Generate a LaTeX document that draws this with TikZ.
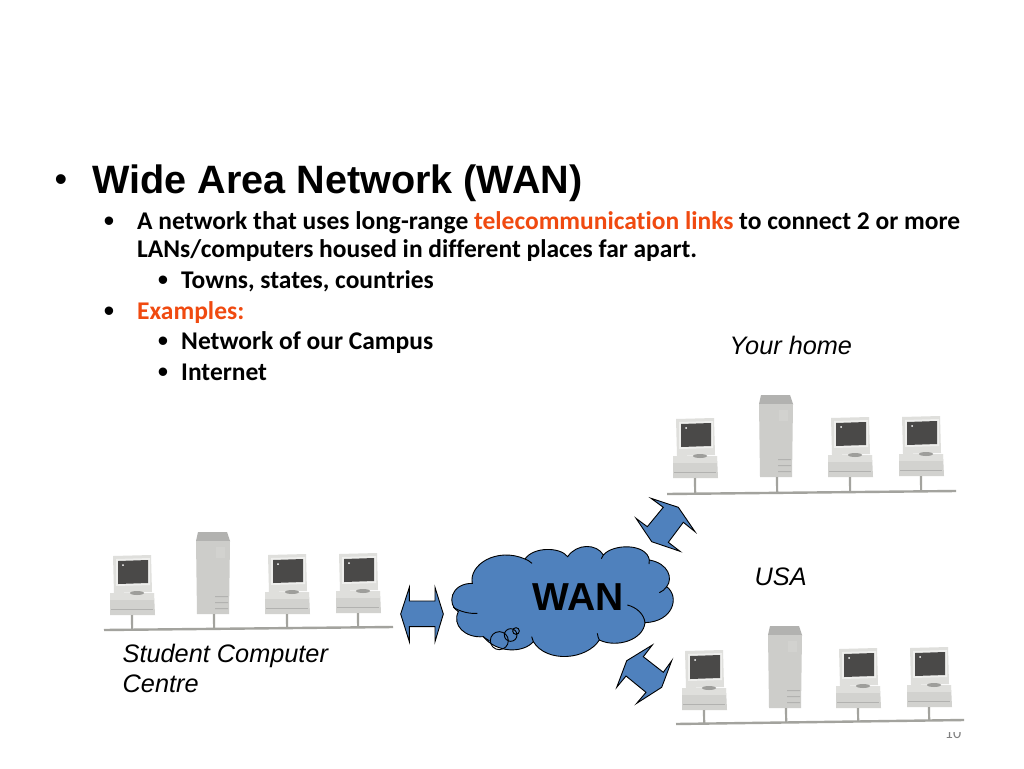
\documentclass[tikz,border=0pt]{standalone}
\usepackage{fontspec}
\setmainfont{Carlito}[Ligatures=CommonOff]
\newfontfamily\arialf{Liberation Sans}
\usetikzlibrary{calc}
\definecolor{cloudblue}{HTML}{4F81BD}
\definecolor{hot}{HTML}{F04A10}
\definecolor{bgray}{HTML}{A3A39E}
\definecolor{caseg}{HTML}{D2D2CF}
\definecolor{caselt}{HTML}{DFDFDC}
\definecolor{screeng}{HTML}{4A4948}
\tikzset{x=1pt,y=-1pt,
  bodytext/.style={anchor=base west,inner sep=0pt,font=\fontsize{25.5}{28}\selectfont\bfseries},
  bulletmark/.style={anchor=base,inner sep=0pt,font=\arialf\fontsize{31}{34}\selectfont},
  labeltext/.style={anchor=base west,inner sep=0pt,font=\arialf\itshape\fontsize{25.3}{30}\selectfont},
  flow/.style={draw=black,line width=0.9pt,fill=cloudblue,line join=miter},
  busline/.style={draw=bgray,line width=2.4pt},
  stubline/.style={draw=bgray,line width=2.2pt},
}
% pc: name, x, y of top-left of monitor
\newcommand{\mypc}[3]{%
  \begin{scope}[shift={(#2,#3)}]
    \fill[caseg] (-3,37) -- (41,37) -- (42,59) -- (-3,59) -- cycle;
    \fill[caselt] (-3,37) -- (41,37) -- (41,44) -- (-3,44) -- cycle;
    \fill[caseg!85!black] (-2,53) rectangle (40,54);
    \fill[caselt] (0,0) -- (38,-1) -- (39,36) -- (1,37) -- cycle;
    \fill[white!50!caselt] (3,3) -- (37,2) -- (37,29) -- (3,30) -- cycle;
    \fill[screeng] (5,5) -- (35,4) -- (35,27) -- (5,28) -- cycle;
    \fill[white] (10,9) circle (1);
    \fill[caseg!75!black] (24,37) ellipse (7 and 2);
    \coordinate (#1) at (19,59);
  \end{scope}}
\newcommand{\myserver}[3]{%
  \begin{scope}[shift={(#2,#3)}]
    \fill[caseg!85!black] (2,0) -- (31,0) -- (34,9) -- (0,9) -- cycle;
    \fill[caselt!92!black] (0,9) -- (34,9) -- (33,82) -- (1,82) -- cycle;
    \fill[caseg] (20,15) rectangle (29,26);
    \fill[caseg!85!black] (19,64) rectangle (32,65) (19,70) rectangle (32,71) (19,76) rectangle (32,77);
    \coordinate (#1) at (18,82);
  \end{scope}}
\newcommand{\mystub}[3]{\draw[stubline] (#1) -- ($(#2)!(#1)!(#3)$);}
\begin{document}
\begin{tikzpicture}
\useasboundingbox (0,0) rectangle (1024,768);
\fill[white] (0,0) rectangle (1024,768);
% text
\node[anchor=base,inner sep=0pt,font=\arialf\fontsize{36}{40}\selectfont] (b0) at (61,191) {•};
\node[anchor=base west,inner sep=0pt,font=\arialf\bfseries\fontsize{39.6}{44}\selectfont] (title) at (92,193) {Wide Area Network (WAN)};
\node[bulletmark] (b1) at (109,231) {•};
\node[bodytext] (t1) at (137,229) {A network that uses long-range \textcolor{hot}{telecommunication links} to connect 2 or more};
\node[bodytext] (t2) at (137,257) {LANs/computers housed in different places far apart.};
\node[bulletmark] (b3) at (163,290) {•};
\node[bodytext] (t3) at (181,288) {Towns, states, countries};
\node[bulletmark] (b4) at (109,321) {•};
\node[bodytext,text=hot] (t4) at (137,319) {Examples:};
\node[bulletmark] (b5) at (163,351) {•};
\node[bodytext] (t5) at (181,349) {Network of our Campus};
\node[bulletmark] (b6) at (163,382) {•};
\node[bodytext] (t6) at (181,380) {Internet};
\node[labeltext] (home) at (729.5,354) {Your home};
\node[labeltext] (usa) at (754.5,585) {USA};
\node[labeltext] (scc1) at (122.5,662) {Student Computer};
\node[labeltext] (scc2) at (122.5,692) {Centre};
% page number, mostly hidden by the lower network
\node[anchor=base,inner sep=0pt,text=gray,font=\fontsize{16}{18}\selectfont] (page) at (953,738.5) {10};
\fill[white] (670,620) rectangle (975,732);
% left network
\coordinate (busAL) at (104,630); \coordinate (busAR) at (393,627);
\mypc{a1}{113}{556}\myserver{a2}{196}{532}\mypc{a3}{268}{555}\mypc{a4}{339}{554}
\foreach \n in {a1,a2,a3,a4}{\mystub{\n}{busAL}{busAR}}
\draw[busline] (busAL) -- (busAR);
% upper network
\coordinate (busBL) at (667,494); \coordinate (busBR) at (956,491);
\mypc{b1}{676}{419}\myserver{b2}{759}{395}\mypc{b3}{831}{418}\mypc{b4}{902}{417}
\foreach \n in {b1,b2,b3,b4}{\mystub{\n}{busBL}{busBR}}
\draw[busline] (busBL) -- (busBR);
% lower network
\coordinate (busCL) at (676,724); \coordinate (busCR) at (964,720);
\mypc{c1}{685}{651}\myserver{c2}{768}{626}\mypc{c3}{839}{649}\mypc{c4}{910}{648}
\foreach \n in {c1,c2,c3,c4}{\mystub{\n}{busCL}{busCR}}
\draw[busline] (busCL) -- (busCR);
% arrows
\draw[flow] (651,498.3) -- (678.3,507.3) -- (695,531.7) -- (683.3,522.3) -- (668.3,542.3) -- (680,551.3) -- (651.7,541.7) -- (636,518.3) -- (647.3,526.7) -- (663.3,507.3) -- cycle;
\draw[flow] (652.3,645) -- (643.3,656.7) -- (663.3,672.3) -- (671.7,660.7) -- (661.7,687.3) -- (636.7,703.3) -- (646,692.3) -- (626,676) -- (616.7,687.3) -- (626.7,660.7) -- cycle;
% cloud and left arrow
\begin{scope}[shift={(390,490)},scale=1/3,x=1pt,y=-1pt]
  \draw[flow] (247,280)
    .. controls (235,225) and (320,170) .. (405,207)
    .. controls (430,170) and (510,170) .. (533,200)
    .. controls (560,160) and (620,160) .. (640,195)
    .. controls (670,160) and (770,160) .. (778,210)
    .. controls (835,220) and (850,265) .. (830,290)
    .. controls (870,320) and (850,395) .. (765,398)
    .. controls (760,450) and (680,475) .. (628,450)
    .. controls (590,510) and (470,520) .. (430,455)
    .. controls (400,490) and (320,490) .. (280,440)
    .. controls (225,445) and (185,405) .. (205,365)
    .. controls (170,345) and (180,280) .. (247,280) -- cycle;
  \draw[line width=0.9pt]
    (190,352) .. controls (210,365) and (240,372) .. (262,370)
    (405,207) .. controls (412,210) and (420,214) .. (426,220)
    (640,195) .. controls (637,198) and (635,202) .. (634,206)
    (778,210) .. controls (779,214) and (779,218) .. (777,222)
    (830,290) .. controls (825,298) and (817,304) .. (808,308)
    (712,345) .. controls (740,352) and (762,372) .. (765,398)
    (628,450) .. controls (625,444) and (623,438) .. (622,430)
    (430,455) .. controls (428,450) and (426,446) .. (425,440)
    (280,440) .. controls (285,444) and (290,448) .. (298,452);
  \draw[line width=0.9pt] (328,452) circle (27) (362,435) circle (19) (378,423) circle (10);
  \draw[flow] (32,372) -- (58,292) -- (58,333) -- (135,333) -- (135,292) -- (160,372) -- (135,455) -- (135,410) -- (58,410) -- (58,455) -- cycle;
\end{scope}
\node[anchor=base,inner sep=0pt,font=\arialf\bfseries\fontsize{39}{44}\selectfont] (wan) at (578,610) {WAN};
\end{tikzpicture}
\end{document}
